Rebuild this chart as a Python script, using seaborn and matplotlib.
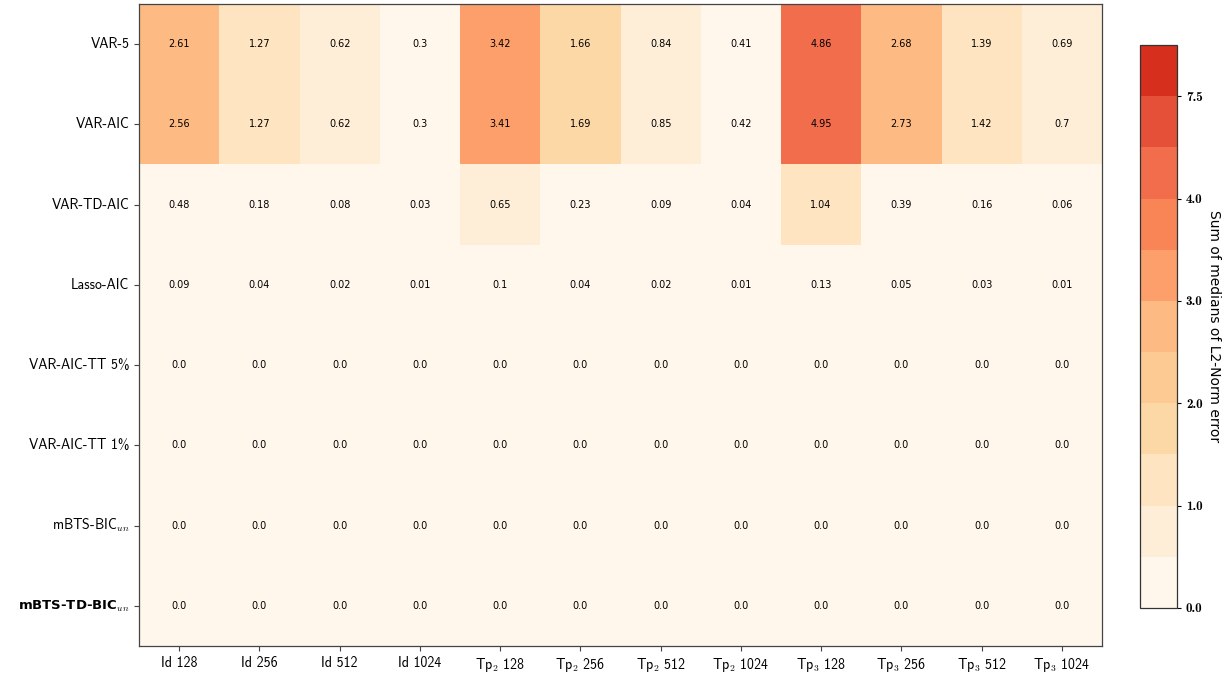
import matplotlib
matplotlib.use("Agg")
import matplotlib.pyplot as plt
import numpy as np
import pandas as pd
import seaborn as sns
from matplotlib.colors import BoundaryNorm, ListedColormap

methods = ["VAR-5", "VAR-AIC", "VAR-TD-AIC", "Lasso-AIC", "VAR-AIC-TT 5%",
           "VAR-AIC-TT 1%", r"mBTS-BIC$_{un}$", r"mBTS-TD-BIC$_{un}$"]
settings = ["Id 128", "Id 256", "Id 512", "Id 1024",
            r"Tp$_2$ 128", r"Tp$_2$ 256", r"Tp$_2$ 512", r"Tp$_2$ 1024",
            r"Tp$_3$ 128", r"Tp$_3$ 256", r"Tp$_3$ 512", r"Tp$_3$ 1024"]

var5 = [2.61, 1.27, 0.62, 0.3, 3.42, 1.66, 0.84, 0.41, 4.86, 2.68, 1.39, 0.69]
var_aic = [2.56, 1.27, 0.62, 0.3, 3.41, 1.69, 0.85, 0.42, 4.95, 2.73, 1.42, 0.7]
var_td_aic = [0.48, 0.18, 0.08, 0.03, 0.65, 0.23, 0.09, 0.04, 1.04, 0.39, 0.16, 0.06]
lasso_aic = [0.09, 0.04, 0.02, 0.01, 0.1, 0.04, 0.02, 0.01, 0.13, 0.05, 0.03, 0.01]
var_tt5 = [0.0] * 12
var_tt1 = [0.0] * 12
mbts_bic = [0.0] * 12
mbts_td_bic = [0.0] * 12

bounds = [0, 0.5, 1.0, 1.5, 2.0, 2.5, 3.0, 3.5, 4.0, 5.0, 7.5, 8.5]
cbar_ticks = [0.0, 1.0, 2.0, 3.0, 4.0, 7.5]


def main():
    plt.rcParams["mathtext.fontset"] = "cm"
    plt.rcParams["axes.unicode_minus"] = False

    df = pd.DataFrame([var5, var_aic, var_td_aic, lasso_aic, var_tt5,
                       var_tt1, mbts_bic, mbts_td_bic],
                      index=methods, columns=settings)
    annot = df.map(lambda v: str(v))

    # OrRd, cut before the darkest reds, one colour per bin
    base = plt.get_cmap("OrRd")
    cmap = ListedColormap([base(v) for v in np.linspace(0, 0.75, len(bounds) - 1)])
    norm = BoundaryNorm(bounds, cmap.N)

    fig = plt.figure(figsize=(12.28, 6.73), dpi=100)
    ax = fig.add_axes([0.1132, 0.0401, 0.7842, 0.954])
    cax = fig.add_axes([0.9283, 0.0966, 0.0301, 0.8365])

    sns.heatmap(df, ax=ax, cbar_ax=cax, cmap=cmap, norm=norm,
                annot=annot, fmt="", annot_kws={"fontsize": 7, "color": "black"})

    for sp in ax.spines.values():
        sp.set_visible(True)
        sp.set_linewidth(0.9)
        sp.set_color("#444444")

    ax.tick_params(axis="both", length=3.5, width=0.8, color="#444444")
    ax.set_xticklabels(settings, rotation=0, fontsize=10, family=["cmss10", "DejaVu Sans"])
    ax.set_yticklabels(methods, rotation=0, fontsize=10, family=["cmss10", "DejaVu Sans"])
    last = ax.get_yticklabels()[-1]
    last.set_family("DejaVu Sans")
    last.set_fontweight("bold")
    last.set_fontsize(9.5)
    ax.set_xlabel("")
    ax.set_ylabel("")

    cb = ax.collections[0].colorbar
    cb.outline.set_linewidth(0.9)
    cb.outline.set_edgecolor("#333333")
    cb.set_ticks(cbar_ticks)
    cb.set_ticklabels([f"{t:.1f}" for t in cbar_ticks])
    cb.minorticks_off()
    cax.tick_params(length=3, width=0.8)
    for t in cax.get_yticklabels():
        t.set_family("cmb10")
        t.set_fontsize(9.5)
    cb.set_label("Sum of medians of L2-Norm error", rotation=270,
                 labelpad=13, fontsize=10)

    fig.savefig("out.png", dpi=100)


if __name__ == "__main__":
    main()
